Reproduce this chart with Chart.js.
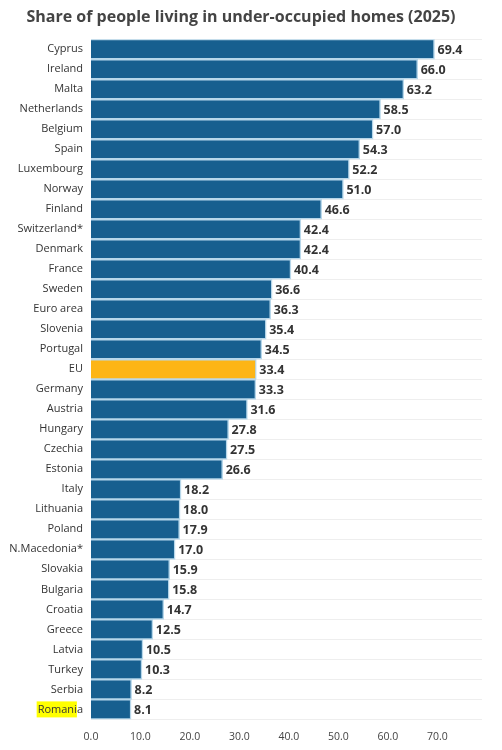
<!DOCTYPE html>
<html><head><meta charset="utf-8">
<script src="https://cdn.jsdelivr.net/npm/chart.js@4"></script>
<style>html,body{margin:0;background:#fff}#w{width:502px;height:750px;position:relative}</style>
</head><body><div id="w"><canvas id="c"></canvas></div>
<script>
const categories=["Cyprus","Ireland","Malta","Netherlands","Belgium","Spain","Luxembourg","Norway","Finland","Switzerland*","Denmark","France","Sweden","Euro area","Slovenia","Portugal","EU","Germany","Austria","Hungary","Czechia","Estonia","Italy","Lithuania","Poland","N.Macedonia*","Slovakia","Bulgaria","Croatia","Greece","Latvia","Turkey","Serbia","Romania"];
const values=[69.4,66.0,63.2,58.5,57.0,54.3,52.2,51.0,46.6,42.4,42.4,40.4,36.6,36.3,35.4,34.5,33.4,33.3,31.6,27.8,27.5,26.6,18.2,18.0,17.9,17.0,15.9,15.8,14.7,12.5,10.5,10.3,8.2,8.1];
const xTicks=[0,10,20,30,40,50,60,70];
const colors=categories.map(c=>c==="EU"?"#fdb515":"#175f8f");
const labelPlugin={id:'lbl',
 beforeDraw(ch){const y=ch.scales.y,ctx=ch.ctx;const i=categories.indexOf("Romania");const py=y.getPixelForTick(i);
  ctx.save();ctx.font='11px "Open Sans"';const full=ctx.measureText("Romania").width;const part=ctx.measureText("Romani").width;
  const right=y.right-8;ctx.fillStyle="#ffff00";ctx.fillRect(right-full-1,py-8,part+1,16);ctx.restore();},
 afterDatasetsDraw(ch){const ctx=ch.ctx,m=ch.getDatasetMeta(0);ctx.save();ctx.font='bold 12.5px "Open Sans"';ctx.fillStyle="#333";ctx.textBaseline="middle";
  m.data.forEach((b,i)=>ctx.fillText(values[i].toFixed(1),b.x+3,b.y+1));ctx.restore();}};
new Chart(document.getElementById('c'),{type:'bar',
 data:{labels:categories,datasets:[{data:values,backgroundColor:colors,borderColor:"#b7d7ea",borderWidth:1.5,barPercentage:1,categoryPercentage:1}]},
 options:{indexAxis:'y',responsive:true,maintainAspectRatio:false,animation:false,
  layout:{padding:{left:0,right:20,top:0,bottom:4}},
  plugins:{legend:{display:false},tooltip:{enabled:false},
   title:{display:true,text:"Share of people living in under-occupied homes (2025)",color:"#444",font:{family:"Open Sans",size:16,weight:'bold'},padding:{top:8,bottom:12}}},
  scales:{x:{min:0,max:79,afterBuildTicks(s){s.ticks=xTicks.map(v=>({value:v}));},
    grid:{display:false},border:{display:false},
    ticks:{color:"#444",font:{family:"Open Sans",size:10.5},callback:v=>v.toFixed(1),maxRotation:0}},
   y:{grid:{color:"#eeeeee",drawTicks:false},border:{display:false},afterFit(s){s.width=91;},
    ticks:{color:"#333",font:{family:"Open Sans",size:11},padding:8,autoSkip:false}}}},
 plugins:[labelPlugin]});
</script></body></html>
